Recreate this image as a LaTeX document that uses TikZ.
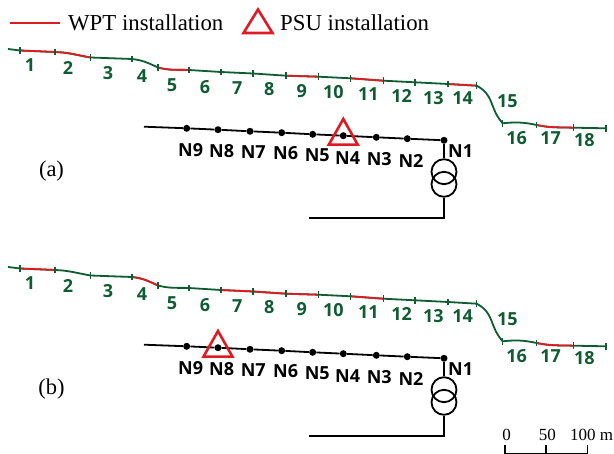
\documentclass[tikz,border=0pt]{standalone}
\usepackage{fontspec}
\setmainfont{Liberation Serif}
\newfontfamily\labelfont{Open Sans}
\usetikzlibrary{arrows.meta,positioning,calc}
\definecolor{trackgreen}{HTML}{0F5C32}
\definecolor{wptred}{HTML}{DE1A22}
\tikzset{
  seg2/.style={out=-2,in=170},
  seg4/.style={out=-6,in=155},
  seg5/.style={out=-15,in=178},
  seg15/.style={out=-28,in=132,looseness=1.15},
  seg16/.style={out=6,in=168},
  seg17/.style={out=-12,in=178},
  tracklabel/.style={font=\labelfont\fontsize{18}{18}\selectfont\bfseries,text=trackgreen,inner sep=0pt},
  buslabel/.style={font=\labelfont\fontsize{18}{18}\selectfont\bfseries,inner sep=0pt},
  busdot/.style={circle,fill=black,inner sep=0pt,minimum size=7pt},
  psu/.style={draw=wptred,line width=2.6pt,line join=miter},
  coil/.style={circle,draw,line width=1.8pt,inner sep=0pt,minimum size=25pt},
  captionlabel/.style={font=\fontsize{22.5}{22.5}\selectfont,inner sep=0pt},
  legendlabel/.style={anchor=base west,inner sep=0pt,font=\fontsize{22.8}{22.8}\selectfont},
  scalelabel/.style={inner sep=0pt,font=\fontsize{17}{17}\selectfont}
}
% #1 prefix, #2 shift, #3 red sections, #4 PSU bus node, #5 caption
\newcommand{\feederpanel}[5]{
  \begin{scope}[yshift=#2,name prefix=#1-]
    \foreach \i/\px/\py in {0/20/50.5,1/55/52,2/90.5/57.5,3/132/59,4/158/67.5,5/189/70,6/221/72,7/253/73.5,8/286/75.7,9/318.3/76.7,10/350.7/78.3,11/383.3/80.7,12/415/82.3,13/448/84,14/476.7/85.7,15/502.7/123.3,16/536.7/125,17/573.3/127.7,18/606/128.3}
      \coordinate (t\i) at (\px,\py);
    \coordinate (tstart) at (8,49);
    \draw[trackgreen,line width=1.8pt] (tstart) -- (t0);
    \foreach \i [count=\n from 1] in {0,...,17}
      \draw[trackgreen,line width=1.8pt] (t\i) to[seg\n/.try] (t\n);
    \foreach \n in {#3} {
      \pgfmathtruncatemacro{\i}{\n-1}
      \draw[wptred,line width=1.8pt] (t\i) to[seg\n/.try] (t\n);
    }
    \foreach \i in {0,...,18}
      \draw[trackgreen,line width=1.2pt] ($(t\i)+(0,-3.4)$) -- ($(t\i)+(0,3.4)$);

    \foreach \i/\px/\py in {1/30/65,2/68/68.3,3/108/72.7,4/142/76,5/172/85,6/205/87.3,7/237.3/88.3,8/269.3/89.3,9/301.7/90.7,10/333.3/92.3,11/368.3/94.3,12/401.7/96,13/433.3/98.3,14/462.7/98.3,15/507.3/100.7,16/516.7/138.3,17/550.7/138.3,18/584.3/140}
      \node[tracklabel] (s\i) at (\px,\py) {\i};

    \coordinate (busend) at (144,126.7);
    \foreach \i/\px/\py in {1/444/140.3,2/407.3/138.7,3/376.3/137.3,4/343.3/135.7,5/312.7/134.3,6/281.7/132.7,7/250/131.3,8/218/129.7,9/186.7/128.3}
      \node[busdot] (n\i) at (\px,\py) {};
    \draw[line width=1.8pt] (busend) -- (n9) -- (n8) -- (n7) -- (n6) -- (n5) -- (n4) -- (n3) -- (n2) -- (n1);
    \foreach \i/\px/\py in {1/460.7/150.7,2/411/161,3/379.3/159.3,4/347.7/158,5/317.3/155.3,6/285.7/153,7/253.3/152,8/221.7/151,9/190.7/149.7}
      \node[buslabel] (l\i) at (\px,\py) {N\i};

    \node[coil] (tfa) at (444,171.7) {};
    \node[coil] (tfb) at (444,184.3) {};
    \coordinate (feedend) at (309,218);
    \draw[line width=1.8pt] (n1) -- (tfa);
    \draw[line width=1.8pt] (tfb) |- (feedend);

    \draw[psu] ($(n#4)+(0,-16.7)$) -- ++(14.5,25.7) -- ++(-29,0) -- cycle;
    \node[captionlabel] (cap) at (51.5,171) {#5};
  \end{scope}
}

\begin{document}
\begin{tikzpicture}[x=1pt,y=-1pt]
  \useasboundingbox (0,0) rectangle (614,454);

  % legend
  \coordinate (lega) at (10,23);
  \coordinate (legb) at (60,23);
  \draw[wptred,line width=2pt] (lega) -- (legb);
  \node[legendlabel] (wpt) at (68,31) {WPT installation};
  \coordinate (legt) at (258,9.5);
  \draw[psu] (legt) -- ++(14.5,23.5) -- ++(-29,0) -- cycle;
  \node[legendlabel] (psu) at (280,31) {PSU installation};

  \feederpanel{a}{0pt}{1,2,5,9,11,14,17}{4}{(a)}
  \feederpanel{b}{-218pt}{1,4,7,8,9,11,17}{8}{(b)}

  % scale bar
  \coordinate (sa) at (505,445);
  \coordinate (sb) at (546,445);
  \coordinate (sc) at (587.3,445);
  \draw[line width=1.2pt] (sa) -- ++(0,8.3) -| (sc);
  \draw[line width=1.2pt] (sb) -- ++(0,8.3);
  \node[scalelabel] (s0) at (506.7,435) {0};
  \node[scalelabel] (s50) at (547.3,435) {50};
  \node[scalelabel,anchor=west] (s100) at (570,435) {100 m};
\end{tikzpicture}
\end{document}
